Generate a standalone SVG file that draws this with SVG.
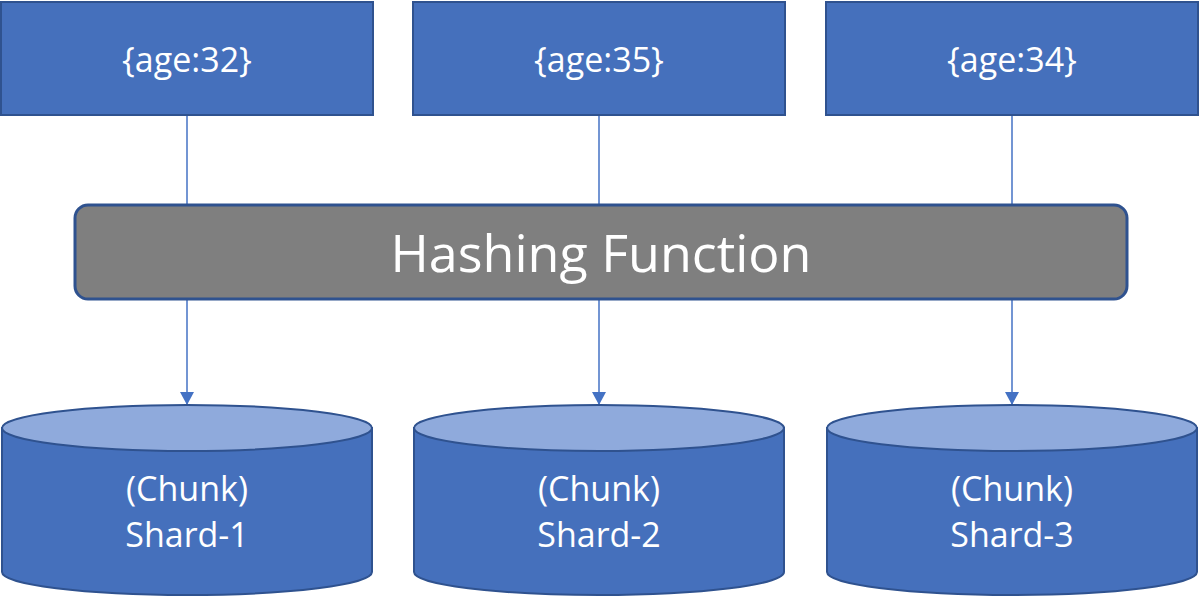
<svg xmlns="http://www.w3.org/2000/svg" width="1200" height="598" viewBox="0 0 1200 598">
<defs>
<style>
.box{fill:#4570bc;stroke:#2f528f;stroke-width:2}
.hash{fill:#7f7f7f;stroke:#2f528f;stroke-width:3}
.side{fill:#4570bc;stroke:#2f528f;stroke-width:2}
.top{fill:#8faadc;stroke:#2f528f;stroke-width:2}
.t{font-family:"Open Sans","Liberation Sans",sans-serif;fill:#ffffff;text-anchor:middle}
.lbl{font-size:34px}
.big{font-size:52px}
.conn{stroke:#4472c4;stroke-width:1.5;fill:none}
</style>
<marker id="arr" viewBox="0 0 13 14" refX="13" refY="7" markerWidth="13" markerHeight="14" markerUnits="userSpaceOnUse" orient="auto">
<path d="M0,0 L13,7 L0,14 Z" fill="#4472c4"/>
</marker>
</defs>
<rect width="1200" height="598" fill="#ffffff"/>
<g id="connectors">
<line class="conn" x1="187" y1="115" x2="187" y2="205"/>
<line class="conn" x1="599" y1="115" x2="599" y2="205"/>
<line class="conn" x1="1012" y1="115" x2="1012" y2="205"/>
<line class="conn" x1="187" y1="299" x2="187" y2="405" marker-end="url(#arr)"/>
<line class="conn" x1="599" y1="299" x2="599" y2="405" marker-end="url(#arr)"/>
<line class="conn" x1="1012" y1="299" x2="1012" y2="405" marker-end="url(#arr)"/>
</g>
<g id="age32">
<rect class="box" x="1" y="2" width="372" height="113"/>
<text class="t lbl" x="187" y="72">{age:32}</text>
</g>
<g id="age35">
<rect class="box" x="413" y="2" width="372" height="113"/>
<text class="t lbl" x="599" y="72">{age:35}</text>
</g>
<g id="age34">
<rect class="box" x="826" y="2" width="372" height="113"/>
<text class="t lbl" x="1012" y="72">{age:34}</text>
</g>
<g id="hashing">
<rect class="hash" x="75" y="205" width="1052" height="94" rx="13"/>
<text class="t big" x="601" y="272">Hashing Function</text>
</g>
<g id="shard1">
<path class="side" d="M2,428 L2,572 A185,23 0 0 0 372,572 L372,428 Z"/>
<ellipse class="top" cx="187" cy="428" rx="185" ry="23"/>
<text class="t lbl" x="187" y="501">(Chunk)</text>
<text class="t lbl" x="187" y="547">Shard-1</text>
</g>
<g id="shard2">
<path class="side" d="M414,428 L414,572 A185,23 0 0 0 784,572 L784,428 Z"/>
<ellipse class="top" cx="599" cy="428" rx="185" ry="23"/>
<text class="t lbl" x="599" y="501">(Chunk)</text>
<text class="t lbl" x="599" y="547">Shard-2</text>
</g>
<g id="shard3">
<path class="side" d="M827,428 L827,572 A185,23 0 0 0 1197,572 L1197,428 Z"/>
<ellipse class="top" cx="1012" cy="428" rx="185" ry="23"/>
<text class="t lbl" x="1012" y="501">(Chunk)</text>
<text class="t lbl" x="1012" y="547">Shard-3</text>
</g>
</svg>
